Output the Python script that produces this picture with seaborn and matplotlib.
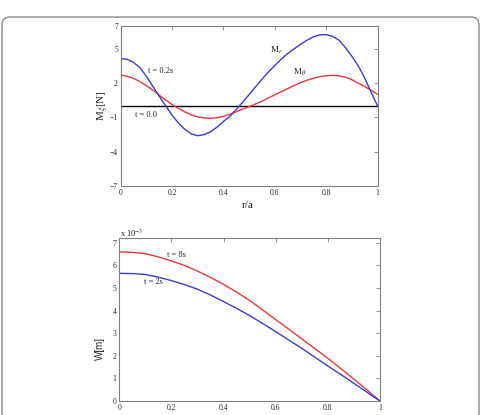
import numpy as np
import pandas as pd
import matplotlib
matplotlib.use("Agg")
import matplotlib.pyplot as plt
import seaborn as sns
from matplotlib.patches import FancyBboxPatch

# top panel: moments along r/a (t = 0.2s), zero line for t = 0.0
r_top = [0.0, 0.025, 0.05, 0.075, 0.1, 0.125, 0.15, 0.175, 0.2, 0.225,
         0.25, 0.275, 0.3, 0.325, 0.35, 0.375, 0.4, 0.425, 0.45, 0.475,
         0.5, 0.525, 0.55, 0.575, 0.6, 0.625, 0.65, 0.675, 0.7, 0.725,
         0.75, 0.775, 0.8, 0.825, 0.85, 0.875, 0.9, 0.925, 0.95, 0.975, 1.0]
m_r = [4.17, 4.08, 3.82, 3.35, 2.6, 1.72, 0.85, 0.02, -0.8, -1.5,
       -2.05, -2.45, -2.6, -2.5, -2.25, -1.85, -1.35, -0.9, -0.3, 0.35,
       1.0, 1.68, 2.35, 2.98, 3.55, 4.1, 4.6, 5.0, 5.4, 5.75,
       6.05, 6.22, 6.25, 6.1, 5.75, 5.1, 4.35, 3.5, 2.45, 1.2, 0.0]
m_theta = [2.71, 2.6, 2.42, 2.13, 1.78, 1.38, 0.95, 0.52, 0.12, -0.22,
           -0.52, -0.78, -0.95, -1.05, -1.08, -1.03, -0.9, -0.72, -0.5, -0.27,
           -0.05, 0.18, 0.42, 0.7, 0.98, 1.25, 1.52, 1.8, 2.05, 2.25,
           2.43, 2.57, 2.65, 2.68, 2.64, 2.52, 2.3, 2.0, 1.7, 1.37, 1.02]
m_zero = [0.0] * len(r_top)

# bottom panel: deflection W (x 10^-3 m)
r_bot = [0.0, 0.05, 0.1, 0.15, 0.2, 0.25, 0.3, 0.35, 0.4, 0.45, 0.5,
         0.55, 0.6, 0.65, 0.7, 0.75, 0.8, 0.85, 0.9, 0.95, 1.0]
w_8s = [6.6, 6.58, 6.52, 6.38, 6.2, 6.0, 5.75, 5.47, 5.16, 4.82, 4.45,
        4.03, 3.6, 3.18, 2.75, 2.32, 1.89, 1.43, 0.97, 0.49, 0.0]
w_2s = [5.65, 5.64, 5.6, 5.48, 5.33, 5.15, 4.95, 4.69, 4.4, 4.1, 3.78,
        3.43, 3.07, 2.7, 2.33, 1.94, 1.55, 1.17, 0.78, 0.39, 0.0]

top_yticks = [-7, -4, -1, 2, 5, 7]
x_ticks = [0, 0.2, 0.4, 0.6, 0.8, 1]
x_ticklabels = ["0", "0.2", "0.4", "0.6", "0.8", "1"]

sns.set_theme(style="white")
plt.rcParams['font.family'] = ['Liberation Serif', 'DejaVu Serif']
plt.rcParams['mathtext.fontset'] = 'stix'

BLUE = "#3b3bd0"
RED = "#e8383a"

fig = plt.figure(figsize=(4.81, 4.15), dpi=100)

# rounded frame around the figure
frame = FancyBboxPatch((0.02, -0.6), 4.77, 4.58,
                       boxstyle="round,pad=0,rounding_size=0.08",
                       transform=fig.dpi_scale_trans, fill=False,
                       edgecolor="#8a8a8a", linewidth=1.0)
fig.patches.append(frame)

top = pd.DataFrame({"r": r_top, "Mr": m_r, "Mt": m_theta, "zero": m_zero})
bot = pd.DataFrame({"r": r_bot, "w8": w_8s, "w2": w_2s})

ax1 = fig.add_axes([0.251, 0.5518, 0.534, 0.3855])
sns.lineplot(data=top, x="r", y="zero", ax=ax1, color="black", lw=1.0)
sns.lineplot(data=top, x="r", y="Mt", ax=ax1, color=RED, lw=1.0)
sns.lineplot(data=top, x="r", y="Mr", ax=ax1, color=BLUE, lw=1.0)
ax1.set_xlim(0, 1)
ax1.set_ylim(-7, 7)
ax1.set_yticks(top_yticks)
ax1.set_xticks(x_ticks)
ax1.set_xticklabels(x_ticklabels)
ax1.set_xlabel("")
ax1.set_ylabel("")
ax1.text(0.106, 3.06, "t = 0.2s", fontsize=6, va="center")
ax1.text(0.056, -0.79, "t = 0.0", fontsize=6, va="center")
ax1.text(0.58, 4.9, r"M$_r$", fontsize=6.5, va="center")
ax1.text(0.67, 2.9, r"M$_\theta$", fontsize=6.5, va="center")
fig.text(248 / 481, 1 - 205 / 415, "r/a", fontsize=8, ha="center", va="center")
fig.text(103 / 481, 1 - 106 / 415, r"M$_\xi$[N]", fontsize=8, rotation=90,
         ha="center", va="center")

ax2 = fig.add_axes([0.248, 0.0337, 0.542, 0.392])
sns.lineplot(data=bot, x="r", y="w8", ax=ax2, color=RED, lw=1.0)
sns.lineplot(data=bot, x="r", y="w2", ax=ax2, color=BLUE, lw=1.0)
ax2.set_xlim(0, 1)
ax2.set_ylim(0, 7.2)
ax2.set_yticks(range(0, 8))
ax2.set_xticks(x_ticks)
ax2.set_xticklabels(x_ticklabels)
ax2.set_xlabel("")
ax2.set_ylabel("")
ax2.text(0.183, 6.46, "t = 8s", fontsize=6, va="center")
ax2.text(0.095, 5.25, "t = 2s", fontsize=6, va="center")
fig.text(120 / 481, 1 - 233 / 415, r"x 10$^{-3}$", fontsize=6, va="center")
fig.text(100 / 481, 1 - 348 / 415, "W[m]", fontsize=7, rotation=90,
         ha="center", va="center", family=['Liberation Sans', 'DejaVu Sans'])

for ax in (ax1, ax2):
    for s in ax.spines.values():
        s.set_color("#808080")
        s.set_linewidth(0.8)
    ax.tick_params(direction="in", top=True, right=True, length=3,
                   width=0.6, color="#808080", labelsize=5.5, pad=2)

fig.savefig("out.png", dpi=100)
